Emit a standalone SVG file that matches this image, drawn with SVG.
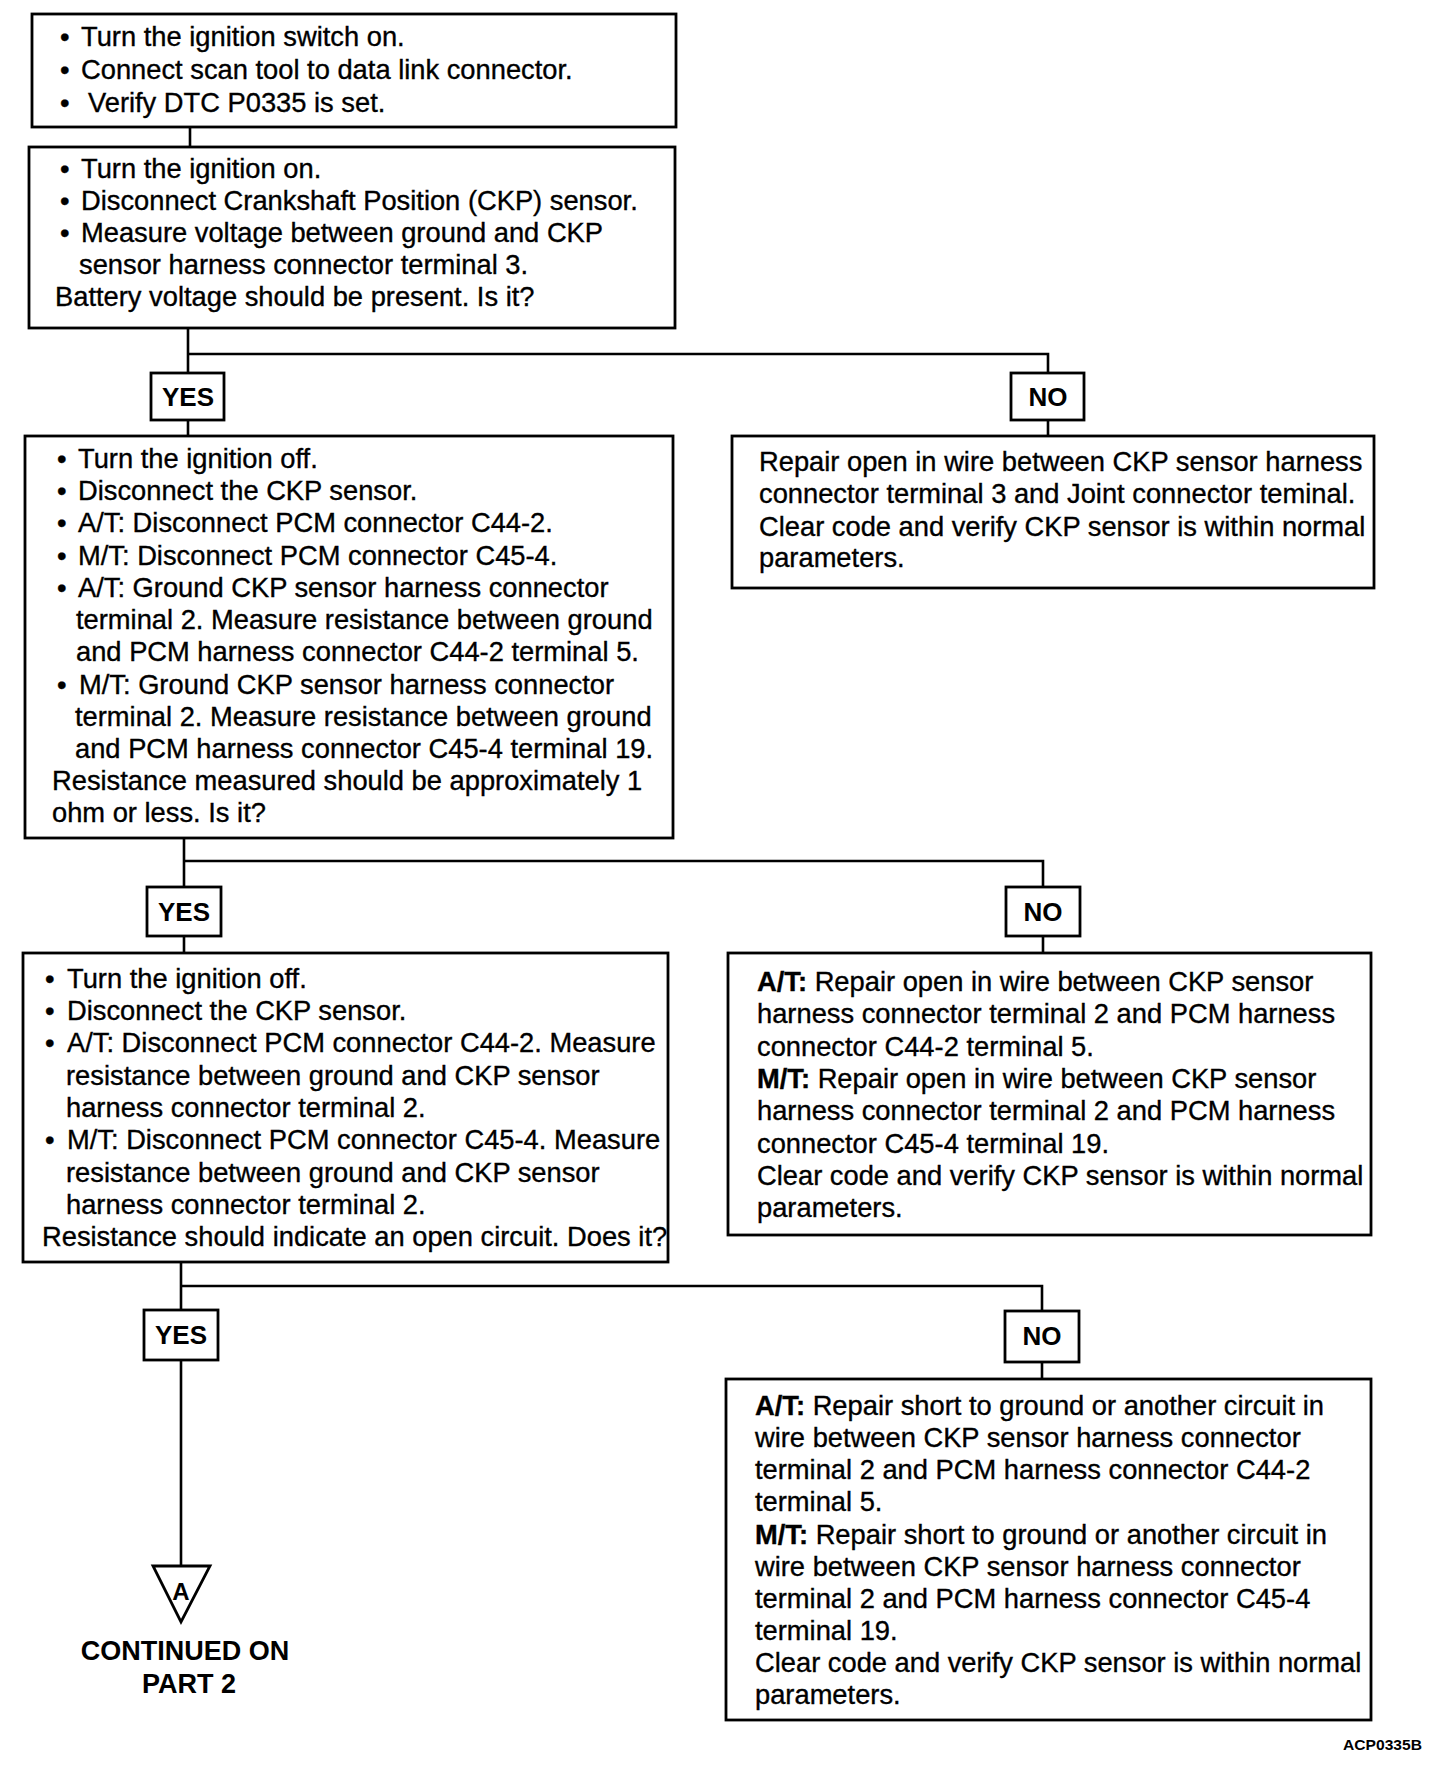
<svg xmlns="http://www.w3.org/2000/svg" width="1456" height="1772" viewBox="0 0 1456 1772">
<style>
.box{fill:#fff;stroke:#000;stroke-width:2.8}
.lbl{fill:#fff;stroke:#000;stroke-width:2.8}
.t{font-family:"Liberation Sans",Arial,sans-serif;font-size:27.3px;fill:#000;stroke:#000;stroke-width:0.35}
.b{font-weight:bold}
.yn{font-family:"Liberation Sans",Arial,sans-serif;font-size:26px;font-weight:bold;text-anchor:middle;fill:#000}
.c{fill:none;stroke:#000;stroke-width:2.6}
</style>
<rect width="1456" height="1772" fill="#fff"/>
<g id="connectors">
<path class="c" d="M190 127 V147"/>
<path class="c" d="M188 328 V373 M188 354 H1048 V373 M188 420 V436 M1048 420 V436"/>
<path class="c" d="M184 838 V887 M184 861 H1043 V887 M184 936 V953 M1043 936 V953"/>
<path class="c" d="M181 1262 V1310 M181 1286 H1042 V1311 M181 1360 V1566 M1042 1362 V1379"/>
</g>
<g id="n1">
<rect class="box" x="32" y="14" width="644" height="113"/>
<text class="t" x="60" y="46">•</text><text class="t" x="81" y="46">Turn the ignition switch on.</text>
<text class="t" x="60" y="79">•</text><text class="t" x="81" y="79">Connect scan tool to data link connector.</text>
<text class="t" x="60" y="112">•</text><text class="t" x="88" y="112">Verify DTC P0335 is set.</text>
</g>
<g id="n2">
<rect class="box" x="29" y="147" width="646" height="181"/>
<text class="t" x="60" y="178">•</text><text class="t" x="81" y="178">Turn the ignition on.</text>
<text class="t" x="60" y="210">•</text><text class="t" x="81" y="210">Disconnect Crankshaft Position (CKP) sensor.</text>
<text class="t" x="60" y="242">•</text><text class="t" x="81" y="242">Measure voltage between ground and CKP</text>
<text class="t" x="79" y="274">sensor harness connector terminal 3.</text>
<text class="t" x="55" y="306">Battery voltage should be present. Is it?</text>
</g>
<g id="yes1"><rect class="lbl" x="151" y="373" width="73" height="47"/><text class="yn" x="188" y="406">YES</text></g>
<g id="no1"><rect class="lbl" x="1011" y="373" width="73" height="47"/><text class="yn" x="1048" y="406">NO</text></g>
<g id="n3">
<rect class="box" x="25" y="436" width="648" height="402"/>
<text class="t" x="57" y="468">•</text><text class="t" x="78" y="468">Turn the ignition off.</text>
<text class="t" x="57" y="500">•</text><text class="t" x="78" y="500">Disconnect the CKP sensor.</text>
<text class="t" x="57" y="532">•</text><text class="t" x="78" y="532">A/T: Disconnect PCM connector C44-2.</text>
<text class="t" x="57" y="565">•</text><text class="t" x="78" y="565">M/T: Disconnect PCM connector C45-4.</text>
<text class="t" x="57" y="597">•</text><text class="t" x="78" y="597">A/T: Ground CKP sensor harness connector</text>
<text class="t" x="76" y="629">terminal 2. Measure resistance between ground</text>
<text class="t" x="76" y="661">and PCM harness connector C44-2 terminal 5.</text>
<text class="t" x="57" y="694">•</text><text class="t" x="79" y="694">M/T: Ground CKP sensor harness connector</text>
<text class="t" x="75" y="726">terminal 2. Measure resistance between ground</text>
<text class="t" x="75" y="758">and PCM harness connector C45-4 terminal 19.</text>
<text class="t" x="52" y="790">Resistance measured should be approximately 1</text>
<text class="t" x="52" y="822">ohm or less. Is it?</text>
</g>
<g id="n4">
<rect class="box" x="732" y="436" width="642" height="152"/>
<text class="t" x="759" y="471">Repair open in wire between CKP sensor harness</text>
<text class="t" x="759" y="503">connector terminal 3 and Joint connector teminal.</text>
<text class="t" x="759" y="536">Clear code and verify CKP sensor is within normal</text>
<text class="t" x="759" y="567">parameters.</text>
</g>
<g id="yes2"><rect class="lbl" x="147" y="887" width="74" height="49"/><text class="yn" x="184" y="921">YES</text></g>
<g id="no2"><rect class="lbl" x="1006" y="887" width="74" height="49"/><text class="yn" x="1043" y="921">NO</text></g>
<g id="n5">
<rect class="box" x="23" y="953" width="645" height="309"/>
<text class="t" x="45" y="988">•</text><text class="t" x="67" y="988">Turn the ignition off.</text>
<text class="t" x="45" y="1020">•</text><text class="t" x="67" y="1020">Disconnect the CKP sensor.</text>
<text class="t" x="45" y="1052">•</text><text class="t" x="67" y="1052">A/T: Disconnect PCM connector C44-2. Measure</text>
<text class="t" x="66" y="1085">resistance between ground and CKP sensor</text>
<text class="t" x="66" y="1117">harness connector terminal 2.</text>
<text class="t" x="45" y="1149">•</text><text class="t" x="67" y="1149">M/T: Disconnect PCM connector C45-4. Measure</text>
<text class="t" x="66" y="1182">resistance between ground and CKP sensor</text>
<text class="t" x="66" y="1214">harness connector terminal 2.</text>
<text class="t" x="42" y="1246">Resistance should indicate an open circuit. Does it?</text>
</g>
<g id="n6">
<rect class="box" x="728" y="953" width="643" height="282"/>
<text class="t" x="757" y="991"><tspan class="b">A/T:</tspan> Repair open in wire between CKP sensor</text>
<text class="t" x="757" y="1023">harness connector terminal 2 and PCM harness</text>
<text class="t" x="757" y="1056">connector C44-2 terminal 5.</text>
<text class="t" x="757" y="1088"><tspan class="b">M/T:</tspan> Repair open in wire between CKP sensor</text>
<text class="t" x="757" y="1120">harness connector terminal 2 and PCM harness</text>
<text class="t" x="757" y="1153">connector C45-4 terminal 19.</text>
<text class="t" x="757" y="1185">Clear code and verify CKP sensor is within normal</text>
<text class="t" x="757" y="1217">parameters.</text>
</g>
<g id="yes3"><rect class="lbl" x="144" y="1310" width="74" height="50"/><text class="yn" x="181" y="1344">YES</text></g>
<g id="no3"><rect class="lbl" x="1005" y="1311" width="74" height="51"/><text class="yn" x="1042" y="1345">NO</text></g>
<g id="n8">
<rect class="box" x="726" y="1379" width="645" height="341"/>
<text class="t" x="755" y="1415"><tspan class="b">A/T:</tspan> Repair short to ground or another circuit in</text>
<text class="t" x="755" y="1447">wire between CKP sensor harness connector</text>
<text class="t" x="755" y="1479">terminal 2 and PCM harness connector C44-2</text>
<text class="t" x="755" y="1511">terminal 5.</text>
<text class="t" x="755" y="1544"><tspan class="b">M/T:</tspan> Repair short to ground or another circuit in</text>
<text class="t" x="755" y="1576">wire between CKP sensor harness connector</text>
<text class="t" x="755" y="1608">terminal 2 and PCM harness connector C45-4</text>
<text class="t" x="755" y="1640">terminal 19.</text>
<text class="t" x="755" y="1672">Clear code and verify CKP sensor is within normal</text>
<text class="t" x="755" y="1704">parameters.</text>
</g>
<g id="offpage">
<polygon points="153,1566 210,1566 181,1622" fill="#fff" stroke="#000" stroke-width="2.8"/>
<text class="yn" x="181" y="1600" style="font-size:24px">A</text>
<text class="yn" x="185" y="1660" style="font-size:27px">CONTINUED ON</text>
<text class="yn" x="189" y="1693" style="font-size:27px">PART  2</text>
</g>
<text x="1343" y="1750" font-family="Liberation Sans, Arial, sans-serif" font-size="15" font-weight="bold" textLength="79" lengthAdjust="spacingAndGlyphs">ACP0335B</text>
</svg>
